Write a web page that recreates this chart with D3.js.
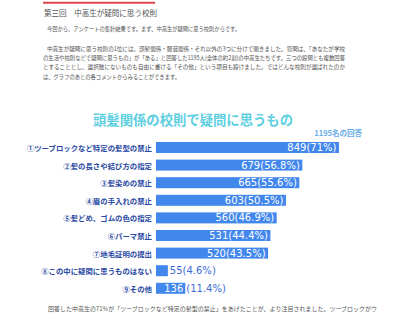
<!DOCTYPE html>
<html><head><meta charset="utf-8">
<script src="https://cdn.jsdelivr.net/npm/d3@7"></script>
<style>
html,body{margin:0;padding:0;background:#fff;}
svg{display:block;}
</style></head>
<body>
<svg id="c" width="402" height="323"></svg>
<script>
const categories = [
  "①ツーブロックなど特定の髪型の禁止",
  "②髪の長さや結び方の指定",
  "③髪染めの禁止",
  "④眉の手入れの禁止",
  "⑤髪どめ、ゴムの色の指定",
  "⑥パーマ禁止",
  "⑦地毛証明の提出",
  "⑧この中に疑問に思うものはない",
  "⑨その他"
];
const counts = [849, 679, 665, 603, 560, 531, 520, 55, 136];
const percents = ["71%", "56.8%", "55.6%", "50.5%", "46.9%", "44.4%", "43.5%", "4.6%", "11.4%"];
const titleText = "頭髪関係の校則で疑問に思うもの";
const noteText = "1195名の回答";
const headingText = "第三回　中高生が疑問に思う校則";
const introLines = [
  "今回から、アンケートの集計結果です。まず、中高生が疑問に思う校則からです。",
  "中高生が疑問に思う校則の1位には、頭髪関係・服装関係・それ以外の3つに分けて聞きました。質問は、「あなたが学校",
  "の生活や校則などで疑問に思うもの」が「ある」と回答した1195人(全体の約2割)の中高生たちです。三つの設問とも複数回答",
  "とすることとし、選択肢にないものも自由に書ける「その他」という項目も設けました。ではどんな校則が選ばれたのか",
  "は、グラフのあとの各コメントからみることができます。"
];
const footerText = "回答した中高生の71%が「ツーブロックなど特定の髪型の禁止」をあげたことが、より注目されました。ツーブロックがウ";

const svg = d3.select("#c");
const jp = "'Noto Sans CJK JP','Noto Sans',sans-serif";

// top red rule + heading
svg.append("line").attr("x1",43).attr("x2",155).attr("y1",2.8).attr("y2",2.8)
  .attr("stroke","#d9474a").attr("stroke-width",2);
svg.append("text").attr("x",44).attr("y",12).attr("dominant-baseline","central")
  .attr("font-family",jp).attr("font-size",8.5).attr("fill","#555")
  .attr("textLength",113).attr("lengthAdjust","spacingAndGlyphs").text(headingText);

// intro paragraph
const introPos = [[47,28.5,193],[47,48.3,298],[43,57.4,302],[43,66.6,302],[43,76.4,137]];
introLines.forEach((t,i)=>{
  svg.append("text").attr("x",introPos[i][0]).attr("y",introPos[i][1])
    .attr("dominant-baseline","central").attr("font-family",jp).attr("font-size",6.2)
    .attr("fill","#555").attr("textLength",introPos[i][2]).attr("lengthAdjust","spacingAndGlyphs").text(t);
});

// chart title
svg.append("text").attr("x",193).attr("y",118.5).attr("text-anchor","middle")
  .attr("dominant-baseline","central").attr("font-family",jp).attr("font-size",13.5)
  .attr("font-weight","bold").attr("fill","#5ccfe0")
  .attr("textLength",200).attr("lengthAdjust","spacingAndGlyphs").text(titleText);
svg.append("text").attr("x",362).attr("y",132).attr("text-anchor","end")
  .attr("dominant-baseline","central").attr("font-family",jp).attr("font-size",7.5)
  .attr("font-weight","bold").attr("fill","#6aaee8").text(noteText);

// scales
const x = d3.scaleLinear().domain([0,1000]).range([156,371.5]);
const y = d3.scaleBand().domain(categories).range([138.7,297.1]).paddingInner(0.375).paddingOuter(0.1875);
const barColor = "#4287ec";
const outColor = "#3a6bd6";

const rows = svg.append("g").selectAll("g").data(categories).join("g");
rows.append("rect")
  .attr("x", x(0)).attr("y", d=>y(d))
  .attr("width", (d,i)=>x(counts[i])-x(0)).attr("height", y.bandwidth())
  .attr("fill", barColor);

rows.append("text")
  .attr("x",152).attr("y",d=>y(d)+y.bandwidth()/2).attr("text-anchor","end")
  .attr("dominant-baseline","central").attr("font-family",jp).attr("font-size",7.4)
  .attr("font-weight","bold").attr("fill","#2b4aa3").text(d=>d);

const vf = "'DejaVu Sans',sans-serif";
const tmp = svg.append("text").attr("font-family",vf).attr("font-size",10);
function w(s){ tmp.text(s); return tmp.node().getComputedTextLength(); }

categories.forEach((c,i)=>{
  const bw = x(counts[i])-x(0);
  const num = String(counts[i]);
  const pct = "(" + percents[i] + ")";
  const full = num + pct;
  const cy = y(c)+y.bandwidth()/2;
  const end = x(counts[i]);
  if (w(full) + 4 < bw) {
    svg.append("text").attr("x",end-2.5).attr("y",cy).attr("text-anchor","end")
      .attr("dominant-baseline","central").attr("font-family",vf).attr("font-size",10)
      .attr("fill","#fff").text(full);
  } else if (w(num) + 4 < bw) {
    svg.append("text").attr("x",end-2).attr("y",cy).attr("text-anchor","end")
      .attr("dominant-baseline","central").attr("font-family",vf).attr("font-size",10)
      .attr("fill","#fff").text(num);
    svg.append("text").attr("x",end+1).attr("y",cy).attr("text-anchor","start")
      .attr("dominant-baseline","central").attr("font-family",vf).attr("font-size",10)
      .attr("fill",outColor).text(pct);
  } else {
    svg.append("text").attr("x",end+2).attr("y",cy).attr("text-anchor","start")
      .attr("dominant-baseline","central").attr("font-family",vf).attr("font-size",10)
      .attr("fill",outColor).text(full);
  }
});
tmp.remove();

// footer
svg.append("text").attr("x",48).attr("y",308).attr("dominant-baseline","central")
  .attr("font-family",jp).attr("font-size",6.2).attr("fill","#555")
  .attr("textLength",329).attr("lengthAdjust","spacingAndGlyphs").text(footerText);
</script>
</body></html>
